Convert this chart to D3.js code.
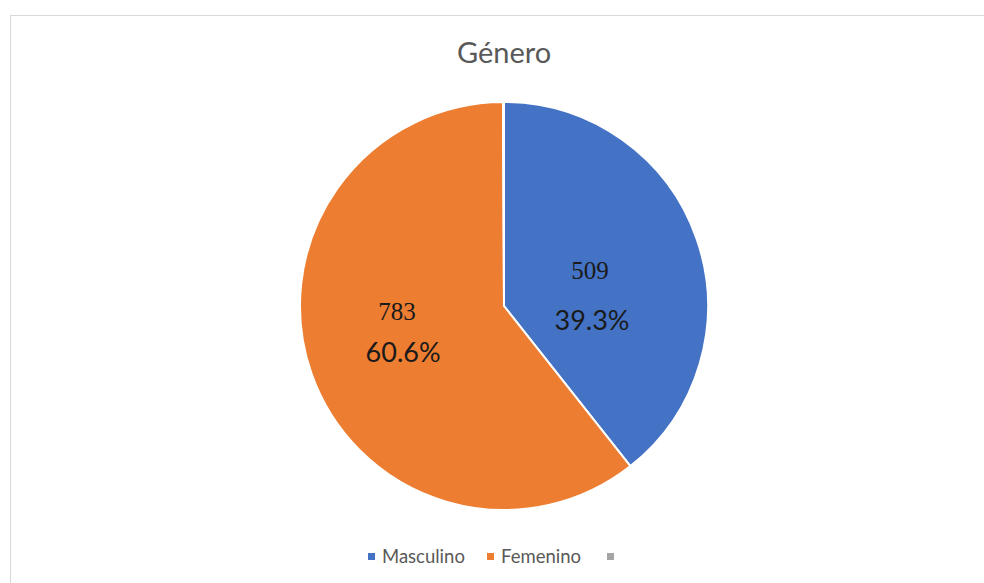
<!DOCTYPE html>
<html><head><meta charset="utf-8">
<script src="https://cdn.jsdelivr.net/npm/d3@7"></script>
<style>body{margin:0;background:#fff;}svg{display:block;}</style>
</head><body>
<svg id="c" width="984" height="583"></svg>
<script>
const title = "Género";
const categories = ["Masculino", "Femenino", ""];
const values = [509, 783, 1];
const percentLabels = ["39.3%", "60.6%", ""];
const colors = ["#4472C4", "#ED7D31", "#A5A5A5"];

const sans = "Lato, 'Open Sans', sans-serif";
const svg = d3.select("#c");
svg.append("rect").attr("x",10.5).attr("y",15.5).attr("width",1000).attr("height",600)
  .attr("fill","#fff").attr("stroke","#d9d9d9").attr("stroke-width",1);

svg.append("text").attr("x",504).attr("y",63).attr("text-anchor","middle")
  .attr("font-family",sans).attr("font-size",29)
  .attr("fill","#595959").text(title);

const cx = 504, cy = 306, r = 204;
const data = categories.map((c,i)=>({c, v: values[i], p: percentLabels[i], col: colors[i]}));
const pie = d3.pie().sort(null).value(d=>d.v);
const arcs = pie(data);
const arc = d3.arc().innerRadius(0).outerRadius(r);
const g = svg.append("g").attr("transform",`translate(${cx},${cy})`);
g.selectAll("path").data(arcs).join("path")
  .attr("d",arc).attr("fill",d=>d.data.col)
  .attr("stroke","#fff").attr("stroke-width",2).attr("stroke-linejoin","round");

// label placement offsets relative to slice centroid (manual nudges as in source)
const labelArc = d3.arc().innerRadius(r*0.55).outerRadius(r*0.55);
const nudges = [
  {nx:-20, ny:10, px:-18, py:61},
  {nx:-1, ny:-23, px:5, py:19}
];
arcs.filter(a=>a.data.p).forEach((a,i)=>{
  const [x,y] = labelArc.centroid(a);
  const n = nudges[i];
  g.append("text").attr("x",x+n.nx).attr("y",y+n.ny).attr("text-anchor","middle")
    .attr("font-family","'Liberation Serif', serif").attr("font-size",25)
    .attr("fill","#1a1a1a").text(a.data.v);
  g.append("text").attr("x",x+n.px).attr("y",y+n.py).attr("text-anchor","middle")
    .attr("font-family",sans).attr("font-size",27)
    .attr("fill","#1a1a1a").text(a.data.p);
});

// legend
const legend = svg.append("g").attr("transform","translate(0,557)");
const lx = [368, 487, 607];
data.forEach((d,i)=>{
  legend.append("rect").attr("x",lx[i]).attr("y",-4).attr("width",7).attr("height",7).attr("fill",d.col);
  legend.append("text").attr("x",lx[i]+14).attr("y",6)
    .attr("font-family",sans).attr("font-size",18.5)
    .attr("fill","#595959").text(d.c);
});
</script>
</body></html>
